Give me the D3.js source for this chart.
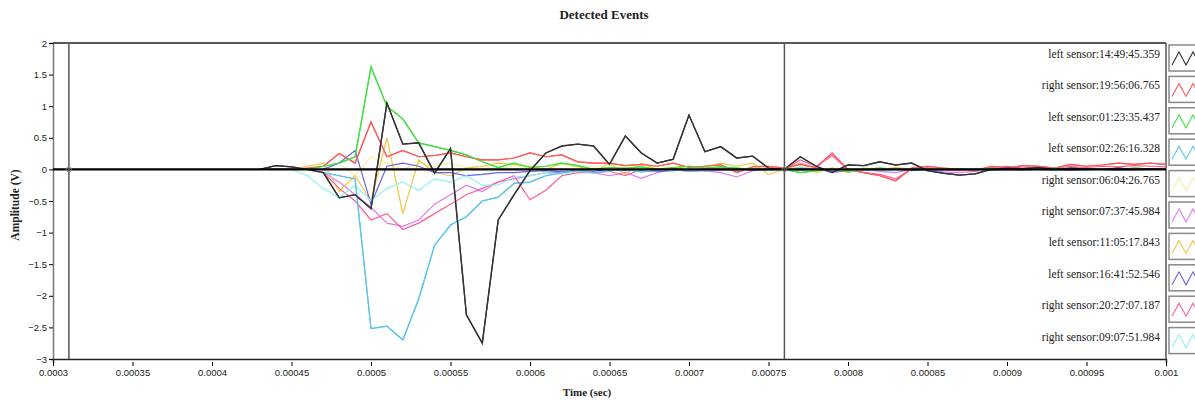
<!DOCTYPE html>
<html>
<head>
<meta charset="utf-8">
<script src="https://cdn.jsdelivr.net/npm/d3@7"></script>
<style>
  body { margin: 0; background: #fff; }
  svg { font-family: "Liberation Serif", "DejaVu Serif", serif; }
  .tick text { font-size: 9.5px; fill: #222; }
</style>
</head>
<body>
<svg id="chart" width="1195" height="401"></svg>
<script>
// sample times (sec)
const times = [
  0.00043, 0.00044, 0.00045, 0.00046, 0.00047, 0.00048, 0.00049,
  0.00050, 0.00051, 0.00052, 0.00053, 0.00054, 0.00055, 0.00056, 0.00057, 0.00058, 0.00059,
  0.00060, 0.00061, 0.00062, 0.00063, 0.00064, 0.00065, 0.00066, 0.00067, 0.00068, 0.00069,
  0.00070, 0.00071, 0.00072, 0.00073, 0.00074, 0.00075, 0.00076, 0.00077, 0.00078, 0.00079,
  0.00080, 0.00081, 0.00082, 0.00083, 0.00084, 0.00085, 0.00086, 0.00087, 0.00088, 0.00089,
  0.00090, 0.00091, 0.00092, 0.00093, 0.00094, 0.00095, 0.00096, 0.00097, 0.00098, 0.00099,
  0.00100
];

const seriesNames = [
  "left sensor:14:49:45.359",
  "right sensor:19:56:06.765",
  "left sensor:01:23:35.437",
  "left sensor:02:26:16.328",
  "right sensor:06:04:26.765",
  "right sensor:07:37:45.984",
  "left sensor:11:05:17.843",
  "left sensor:16:41:52.546",
  "right sensor:20:27:07.187",
  "right sensor:09:07:51.984"
];

const seriesColors = ["#333333", "#ff5a5a", "#3ee03e", "#5cc4ee", "#f4f0a8",
                      "#dc7cf0", "#f2c440", "#6464e4", "#ff5c94", "#8cf0f0"];

const black = [0, 0.06, 0.04, 0, -0.05, -0.45, -0.4,
  -0.62, 1.05, 0.4, 0.42, -0.06, 0.33, -2.3, -2.75, -0.8, -0.4,
  -0.02, 0.26, 0.37, 0.4, 0.37, 0.08, 0.53, 0.26, 0.1, 0.16,
  0.86, 0.28, 0.36, 0.18, 0.21, 0.02, 0, 0.2, 0.05, -0.05,
  0.07, 0.06, 0.12, 0.07, 0.1, -0.02, -0.06, -0.09, -0.07, 0,
  0.02, 0.01, 0.03, 0, 0.02, 0.01, 0, 0.02, 0, 0.01,
  0];
const red = [0, 0, 0, 0.02, 0.05, 0.25, 0.1,
  0.75, 0.2, 0.3, 0.2, 0.22, 0.26, 0.2, 0.15, 0.15, 0.18,
  0.26, 0.2, 0.23, 0.12, 0.1, 0.1, 0.06, 0.08, 0.05, 0.1,
  0.03, 0.05, 0.07, -0.05, 0.04, 0.05, 0.02, 0.08, 0.03, 0.26,
  0, -0.05, -0.1, -0.18, 0.02, 0.05, 0.02, 0, -0.02, 0.05,
  0.02, 0.06, 0.05, 0.02, 0.08, 0.05, 0.07, 0.1, 0.08, 0.1,
  0.08];
const green = [0, 0, 0, 0, 0.05, 0.1, 0.2,
  1.62, 1.0, 0.8, 0.42, 0.36, 0.3, 0.23, 0.12, 0.03, 0.1,
  0.03, 0.05, 0.1, 0.06, 0, 0.03, 0.02, 0.04, 0, 0.03,
  0.05, 0.02, 0.04, 0.02, 0, 0.01, 0, -0.05, -0.02, 0,
  -0.03, 0, 0.02, 0, 0, 0.01, 0, 0.01, 0, 0.02,
  0, 0.01, 0, 0.02, 0.01, 0, 0.01, 0, 0.02, 0.01,
  0];
const lightBlue = [0, 0, 0, 0, -0.05, -0.1, -0.15,
  -2.52, -2.48, -2.7, -2.05, -1.2, -0.88, -0.75, -0.5, -0.44, -0.22,
  -0.2, -0.1, -0.05, -0.02, -0.05, -0.02, 0, -0.04, -0.02, 0,
  -0.03, -0.01, 0, -0.02, 0, -0.01, 0, 0.02, 0, -0.02,
  0, -0.01, 0, 0.01, 0, -0.01, 0, 0, -0.01, 0,
  0.01, 0, 0, -0.01, 0, 0.01, 0, 0, 0.01, 0,
  0];
const paleYellow = [0, 0, 0, 0.03, 0.05, 0.1, -0.1,
  0.2, 0.1, 0, 0.1, 0.05, 0.1, 0.03, 0.05, 0, 0.06,
  0.02, 0.05, 0.08, 0.03, 0.05, 0, 0.04, 0.02, 0.06, 0,
  0.03, 0.05, 0.02, 0, 0.04, 0.02, 0, 0.05, -0.04, 0.03,
  0, 0.02, 0, 0.03, 0.01, 0, 0.02, 0, 0.01, 0.02,
  0, 0.01, 0.02, 0, 0.01, 0, 0.02, 0.01, 0, 0.01,
  0];
const violet = [0, 0, 0, 0, -0.05, -0.2, -0.4,
  -0.6, -0.85, -0.9, -0.8, -0.55, -0.4, -0.25, -0.35, -0.2, -0.15,
  -0.1, -0.05, -0.05, -0.02, -0.05, -0.1, -0.05, -0.14, -0.05, 0,
  -0.03, -0.02, -0.05, -0.12, -0.02, 0, 0, 0.1, 0.02, -0.05,
  -0.02, 0, -0.03, -0.05, 0, -0.02, -0.04, -0.05, -0.03, 0,
  -0.01, 0, 0.02, 0, -0.01, 0, 0.01, 0, -0.01, 0,
  0];
const orange = [0, 0, 0, 0.05, 0.1, -0.35, -0.1,
  -0.5, 0.5, -0.7, 0.15, -0.05, -0.1, 0.02, 0.05, 0.1, 0.08,
  0.05, 0, 0.1, 0.05, -0.05, 0.1, -0.08, 0.1, 0, 0.02,
  0.05, 0.04, 0.1, 0.05, 0.1, -0.08, 0, 0.1, -0.05, 0.02,
  -0.05, 0.02, 0, 0.03, 0, -0.02, 0.02, 0, -0.01, 0.02,
  0, 0.01, 0, 0.02, 0, 0.01, 0, 0.02, 0, 0.01,
  0];
const blue = [0, 0, 0, 0, 0, 0.1, 0.3,
  -0.55, 0.05, 0.1, 0.05, -0.05, -0.05, -0.1, -0.08, -0.05, -0.05,
  -0.03, -0.02, -0.04, -0.02, -0.03, 0, -0.02, -0.01, -0.03, -0.02,
  0, -0.02, -0.01, 0, -0.02, 0, 0, -0.01, 0, -0.03,
  -0.02, 0, -0.01, 0, -0.02, 0, -0.01, 0, 0, -0.01,
  0, -0.01, 0, 0, -0.01, 0, 0, -0.01, 0, 0,
  0];
const pink = [0, 0, 0, 0, -0.05, -0.3, -0.5,
  -0.8, -0.7, -0.95, -0.85, -0.7, -0.55, -0.4, -0.3, -0.2, -0.1,
  -0.48, -0.33, -0.1, -0.05, -0.05, -0.03, -0.1, 0, -0.02, 0.02,
  -0.02, 0, 0.02, -0.03, 0, 0.02, 0, 0.15, 0.05, 0.22,
  0, -0.05, -0.08, -0.15, 0, 0.03, 0, -0.02, 0, 0.03,
  0.05, 0.02, 0.04, 0.02, 0.05, 0.03, 0.05, 0.04, 0.06, 0.05,
  0.04];
const cyan = [0, 0, 0, -0.1, -0.3, -0.45, -0.25,
  -0.5, -0.3, -0.2, -0.33, -0.15, -0.2, -0.1, -0.25, -0.25, -0.12,
  -0.1, -0.05, -0.08, -0.03, -0.05, -0.02, 0, -0.03, 0, -0.02,
  0, -0.01, 0, -0.02, 0, 0, 0, 0.03, 0, -0.01,
  0, 0, -0.01, 0, 0, 0.01, 0, 0, -0.01, 0,
  0, 0.01, 0, 0, 0, -0.01, 0, 0, 0.01, 0,
  0];

const seriesValues = [black, red, green, lightBlue, paleYellow, violet, orange, blue, pink, cyan];

const xTicks = [0.0003, 0.00035, 0.0004, 0.00045, 0.0005, 0.00055, 0.0006, 0.00065,
                0.0007, 0.00075, 0.0008, 0.00085, 0.0009, 0.00095, 0.001];
const xTickLabels = ["0.0003", "0.00035", "0.0004", "0.00045", "0.0005", "0.00055", "0.0006",
                     "0.00065", "0.0007", "0.00075", "0.0008", "0.00085", "0.0009", "0.00095", "0.001"];
const yTicks = [2, 1.5, 1, 0.5, 0, -0.5, -1, -1.5, -2, -2.5, -3];
const cursors = [0.00031, 0.00076];

const svg = d3.select("#chart");
const margin = { top: 43, right: 29, bottom: 42, left: 53 };
const width = 1195 - margin.left - margin.right;
const height = 401 - margin.top - margin.bottom;

const x = d3.scaleLinear().domain([0.0003, 0.001]).range([0, width]);
const y = d3.scaleLinear().domain([-3, 2]).range([height, 0]);

svg.append("text")
  .attr("x", 604)
  .attr("y", 19)
  .attr("text-anchor", "middle")
  .style("font-size", "13px")
  .style("font-weight", "bold")
  .style("fill", "#222")
  .text("Detected Events");

const g = svg.append("g").attr("transform", `translate(${margin.left},${margin.top})`);

// legend text sits under the traces
const legend = g.append("g");
seriesNames.forEach((name, i) => {
  const cy = 11 + i * 31.4;
  legend.append("text")
    .attr("x", width - 6)
    .attr("y", cy + 4)
    .attr("text-anchor", "end")
    .style("font-size", "11.5px")
    .style("fill", "#222")
    .text(name);
});

// axes
const yAxis = g.append("g")
  .call(d3.axisLeft(y).tickValues(yTicks).tickSize(4).tickPadding(2).tickFormat(d3.format("")));
yAxis.select(".domain").attr("stroke", "#777").attr("stroke-width", 1.5);

const xAxis = g.append("g")
  .attr("transform", `translate(0,${height})`)
  .call(d3.axisBottom(x).tickValues(xTicks).tickSize(4).tickPadding(6)
    .tickFormat((d, i) => xTickLabels[i]));
xAxis.select(".domain").attr("stroke", "#222").attr("stroke-width", 1.5);
xAxis.selectAll(".tick line").attr("transform", "translate(0,3)");

// frame top and right
g.append("line").attr("x1", 0).attr("x2", width).attr("y1", 0).attr("y2", 0)
  .attr("stroke", "#222").attr("stroke-width", 1.5);
g.append("line").attr("x1", width).attr("x2", width).attr("y1", 0).attr("y2", height)
  .attr("stroke", "#555").attr("stroke-width", 1.5);

// traces
const line = d3.line()
  .x((d, i) => x(times[i]))
  .y(d => y(d));

seriesValues.forEach((vals, i) => {
  g.append("path")
    .datum(vals)
    .attr("fill", "none")
    .attr("stroke", seriesColors[i])
    .attr("stroke-width", 1.2)
    .attr("d", line);
});
// redraw the strong traces on top
[3, 1, 2, 0].forEach(i => {
  g.append("path")
    .datum(seriesValues[i])
    .attr("fill", "none")
    .attr("stroke", seriesColors[i])
    .attr("stroke-width", i === 0 ? 1.4 : 1.2)
    .attr("d", line);
});

// zero baseline
g.append("line")
  .attr("x1", x(0.0003)).attr("x2", x(0.001))
  .attr("y1", y(0)).attr("y2", y(0))
  .attr("stroke", "#000").attr("stroke-width", 2.2);

// cursors
cursors.forEach(c => {
  g.append("line")
    .attr("x1", x(c)).attr("x2", x(c))
    .attr("y1", 0).attr("y2", height)
    .attr("stroke", "#555").attr("stroke-width", 1.5);
  g.append("circle")
    .attr("cx", x(c)).attr("cy", y(0)).attr("r", 2.5)
    .attr("fill", "none").attr("stroke", "#888").attr("stroke-width", 1);
});

// legend swatches
seriesColors.forEach((col, i) => {
  const top = 2 + i * 31.4;
  const sx = width + 3;
  const sw = svg.append("g").attr("transform", `translate(${margin.left + sx},${margin.top + top})`);
  sw.append("rect")
    .attr("x", 0).attr("y", 0).attr("width", 34).attr("height", 26)
    .attr("fill", "#fff").attr("stroke", "#888").attr("stroke-width", 1.5);
  sw.append("polyline")
    .attr("points", "3,20 10,7 17,20 24,7 31,20")
    .attr("fill", "none").attr("stroke", col).attr("stroke-width", 1.1);
});

svg.append("text")
  .attr("transform", `translate(19,${margin.top + height / 2 + 4}) rotate(-90)`)
  .attr("text-anchor", "middle")
  .style("font-size", "11.5px")
  .style("font-weight", "bold")
  .style("fill", "#222")
  .text("Amplitude (V)");

svg.append("text")
  .attr("x", 587)
  .attr("y", 396)
  .attr("text-anchor", "middle")
  .style("font-size", "11px")
  .style("font-weight", "bold")
  .style("fill", "#222")
  .text("Time (sec)");
</script>
</body>
</html>
